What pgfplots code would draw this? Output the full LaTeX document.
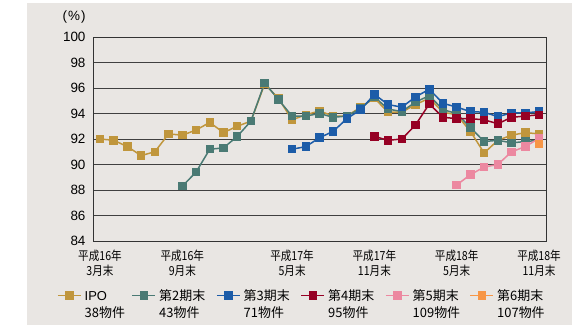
\documentclass[border=0pt]{standalone}
\usepackage{pgfplots}
\pgfplotsset{compat=1.18}
\usepackage{fontspec}
\setmainfont{Liberation Sans}
\newfontfamily\cjk{Noto Sans CJK JP}
\newfontfamily\cjkc[FakeStretch=0.85]{Noto Sans CJK JP}
\definecolor{bgc}{RGB}{233,230,227}
\definecolor{cipo}{RGB}{192,150,60}
\definecolor{cgr}{RGB}{74,122,116}
\definecolor{cbl}{RGB}{28,92,168}
\definecolor{crd}{RGB}{150,0,36}
\definecolor{cpk}{RGB}{236,136,160}
\definecolor{cor}{RGB}{247,150,70}
\begin{document}
\begin{tikzpicture}
\path[use as bounding box] (-93bp,-84bp) rectangle (491bp,241bp);
\fill[white] (-93bp,-84bp) rectangle (491bp,241bp);
\fill[bgc] (-66bp,-84bp) rectangle (479bp,238bp);
\begin{axis}[
  at={(0,0)}, anchor=south west, scale only axis,
  width=453.7bp, height=204bp,
  xmin=-0.51, xmax=32.56, ymin=84, ymax=100,
  ytick={84,86,...,100},
  xtick={0,6,14,20,26,32},
  xticklabels={{平成16年\\3月末},{平成16年\\9月末},{平成17年\\5月末},{平成17年\\11月末},{平成18年\\5月末},{平成18年\\11月末}},
  xticklabel style={font=\cjkc\fontsize{12.5}{16}\selectfont, align=center, yshift=-5bp},
  yticklabel style={font=\fontsize{13.5}{15}\selectfont, xshift=-4bp},
  /pgf/number format/assume math mode=true,
  ymajorgrids, grid style={black!75, line width=0.9pt},
  major tick length=0pt, tick style={draw=none},
  axis line style={black!80, line width=0.9pt},
  every axis plot/.append style={line width=1.5pt, mark=square*, mark size=3.5bp, mark options={solid}},
  legend columns=6,
  legend style={draw=none, fill=none, at={(axis description cs:-0.0793,-0.238)}, anchor=north west,
    column sep=0pt, inner sep=0pt, font=\cjk\fontsize{13}{16.7}\selectfont,
    nodes={inner sep=0pt}, cells={anchor=base west}},
  legend image code/.code={\draw[mark repeat=2,mark phase=2,#1] plot coordinates {(0bp,5bp) (11.5bp,5bp) (23bp,5bp)};},
]
\addplot[color=cipo] coordinates {(0,92.0)(1,91.9)(2,91.4)(3,90.7)(4,91.0)(5,92.4)(6,92.3)(7,92.7)(8,93.3)(9,92.5)(10,93.0)(11,93.4)(12,96.3)(13,95.2)(14,93.5)(15,93.9)(16,94.2)(17,93.8)(18,93.8)(19,94.5)(20,95.2)(21,94.1)(22,94.1)(23,94.7)(24,95.2)(25,94.1)(26,93.9)(27,92.6)(28,90.9)(29,91.9)(30,92.3)(31,92.5)(32,92.4)};
\addlegendentry{\hspace{3bp}\parbox[t]{47bp}{{\rmfamily IPO}\\38物件}}
\addplot[color=cgr] coordinates {(6,88.3)(7,89.4)(8,91.2)(9,91.3)(10,92.2)(11,93.4)(12,96.4)(13,95.1)(14,93.8)(15,93.8)(16,94.0)(17,93.7)(18,93.8)(19,94.4)(20,95.3)(21,94.35)(22,94.15)(23,94.9)(24,95.4)(25,94.3)(26,94.0)(27,92.9)(28,91.8)(29,91.9)(30,91.7)(31,91.8)(32,91.9)};
\addlegendentry{\hspace{3bp}\parbox[t]{57bp}{第2期末\\43物件}}
\addplot[color=cbl] coordinates {(14,91.2)(15,91.4)(16,92.1)(17,92.6)(18,93.6)(19,94.3)(20,95.5)(21,94.7)(22,94.5)(23,95.3)(24,95.9)(25,94.8)(26,94.5)(27,94.15)(28,94.1)(29,93.75)(30,94.05)(31,94.05)(32,94.15)};
\addlegendentry{\hspace{3bp}\parbox[t]{57bp}{第3期末\\71物件}}
\addplot[color=crd] coordinates {(20,92.2)(21,91.9)(22,92.0)(23,93.1)(24,94.75)(25,93.7)(26,93.6)(27,93.6)(28,93.5)(29,93.2)(30,93.7)(31,93.8)(32,93.9)};
\addlegendentry{\hspace{3bp}\parbox[t]{57bp}{第4期末\\95物件}}
\addplot[color=cpk] coordinates {(26,88.4)(27,89.2)(28,89.8)(29,90.0)(30,91.0)(31,91.4)(32,92.05)};
\addlegendentry{\hspace{3bp}\parbox[t]{57bp}{第5期末\\109物件}}
\addplot[color=cor] coordinates {(32,91.6)};
\addlegendentry{\hspace{3bp}\parbox[t]{57bp}{第6期末\\107物件}}
\end{axis}
\node[font=\fontsize{13.5}{15}\selectfont] at (-18.8bp,224.3bp) {(\kern1bp\%\kern1bp)};
\end{tikzpicture}
\end{document}
